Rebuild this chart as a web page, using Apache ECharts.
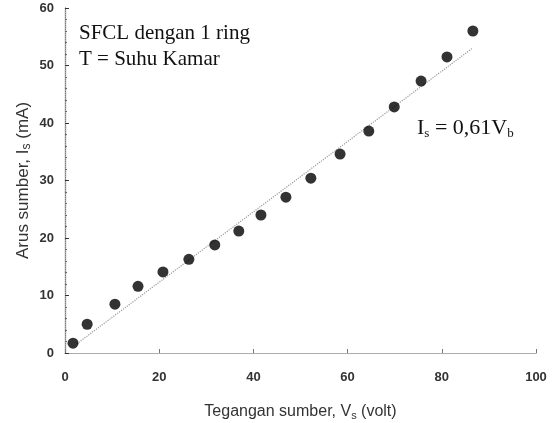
<!DOCTYPE html>
<html>
<head>
<meta charset="utf-8">
<script src="https://cdn.jsdelivr.net/npm/echarts@6/dist/echarts.min.js"></script>
<style>
  html, body { margin: 0; padding: 0; background: #fff; }
  #chart { width: 555px; height: 423px; }
</style>
</head>
<body>
<div id="chart"></div>
<script>
// tegangan sumber (volt) vs arus sumber (mA)
var voltage = [1.7, 4.7, 10.6, 15.5, 20.8, 26.3, 31.8, 36.9, 41.6, 46.9, 52.2, 58.4, 64.5, 69.9, 75.6, 81.1, 86.6];
var current = [1.7, 5.0, 8.5, 11.6, 14.1, 16.3, 18.8, 21.2, 24.0, 27.1, 30.4, 34.6, 38.6, 42.8, 47.3, 51.5, 56.0];
// ends of the dotted fit line Is = 0,61 Vb
var fitX = [2.5, 86.5];
var fitY = [1.6, 53.0];
var xTicks = [0, 20, 40, 60, 80, 100];
var yTicks = [0, 10, 20, 30, 40, 50, 60];

var points = voltage.map(function (v, i) { return [v, current[i]]; });
var fitLine = fitX.map(function (v, i) { return [v, fitY[i]]; });

var chart = echarts.init(document.getElementById("chart"));
var labelFont = "Liberation Sans";
var serif = "Liberation Serif";

chart.setOption({
  animation: false,
  grid: { left: 65, right: 19, top: 8, bottom: 70, containLabel: false, outerBoundsMode: "none" },
  xAxis: [
    {
      type: "value",
      min: xTicks[0],
      max: xTicks[xTicks.length - 1],
      interval: 20,
      name: "Tegangan sumber, V{sub|s} (volt)",
      nameLocation: "middle",
      nameGap: 50,
      nameMoveOverlap: false,
      nameTextStyle: {
        fontFamily: labelFont,
        fontSize: 16,
        color: "#333",
        rich: { sub: { fontSize: 11, verticalAlign: "bottom", padding: [7, 0, 0, 0], color: "#333", fontFamily: labelFont } }
      },
      axisLine: { lineStyle: { color: "#999", type: "dotted", width: 1 } },
      axisTick: { inside: true, length: 4, lineStyle: { color: "#777" } },
      axisLabel: { margin: 18, color: "#333", fontFamily: labelFont, fontSize: 13, fontWeight: "bold" },
      splitLine: { show: false }
    },
    {
      type: "value",
      position: "top",
      min: 0,
      max: 100,
      axisLine: { show: true, lineStyle: { color: "#aaa", type: "dotted", width: 1 } },
      axisTick: { show: false },
      axisLabel: { show: false },
      splitLine: { show: false }
    }
  ],
  yAxis: [
    {
      type: "value",
      min: yTicks[0],
      max: yTicks[yTicks.length - 1],
      interval: 10,
      name: "Arus sumber, I{sub|s} (mA)",
      nameLocation: "middle",
      nameGap: 32,
      nameMoveOverlap: false,
      nameTextStyle: {
        fontFamily: labelFont,
        fontSize: 17,
        color: "#333",
        rich: { sub: { fontSize: 12, verticalAlign: "bottom", padding: [7, 0, 0, 0], color: "#333", fontFamily: labelFont } }
      },
      axisLine: { show: true, lineStyle: { color: "#333", width: 1.2 } },
      axisTick: { inside: true, length: 4, lineStyle: { color: "#333" } },
      minorTick: { show: true, splitNumber: 5, length: 2, lineStyle: { color: "#666" } },
      axisLabel: { margin: 11, color: "#333", fontFamily: labelFont, fontSize: 13, fontWeight: "bold" },
      splitLine: { show: false }
    },
    {
      type: "value",
      position: "right",
      min: 0,
      max: 60,
      axisLine: { show: true, lineStyle: { color: "#aaa", type: "dotted", width: 1 } },
      axisTick: { show: false },
      axisLabel: { show: false },
      splitLine: { show: false }
    }
  ],
  series: [
    {
      name: "fit",
      type: "line",
      data: fitLine,
      symbol: "none",
      lineStyle: { color: "#9a9a9a", type: "dotted", width: 1.2 },
      z: 1
    },
    {
      name: "data",
      type: "scatter",
      data: points,
      symbolSize: 11,
      itemStyle: { color: "#000" },
      z: 3
    }
  ],
  graphic: [
    {
      type: "text",
      left: 79,
      top: 20,
      style: {
        text: "SFCL dengan 1 ring\nT = Suhu Kamar",
        font: "21px '" + serif + "'",
        lineHeight: 26,
        fill: "#111"
      }
    },
    {
      type: "text",
      left: 417,
      top: 117,
      style: {
        text: "I{sub|s} = 0,61V{sub|b}",
        font: "22px '" + serif + "'",
        fill: "#111",
        rich: {
          sub: { fontSize: 13, fontFamily: serif, verticalAlign: "bottom", padding: [11, 0, 0, 0], fill: "#111" }
        }
      }
    }
  ]
});
</script>
</body>
</html>
